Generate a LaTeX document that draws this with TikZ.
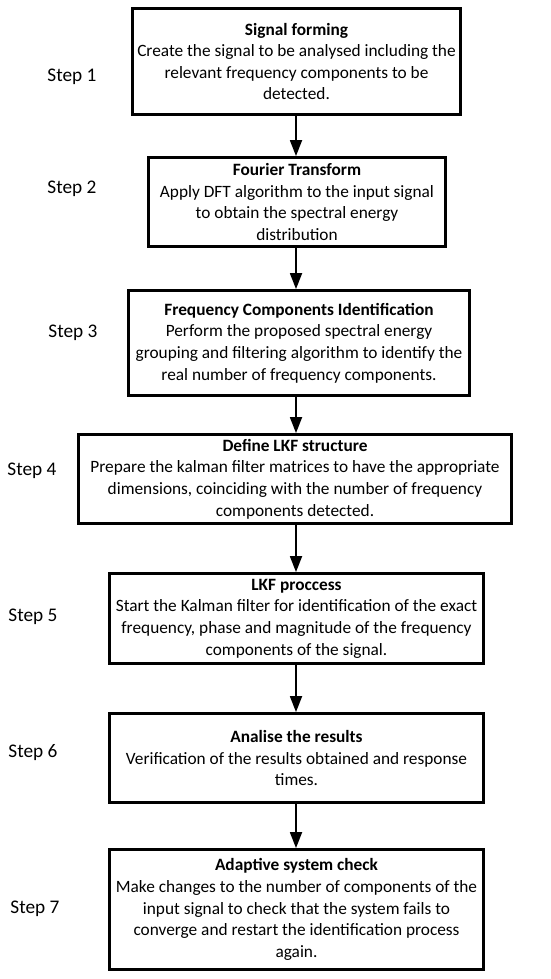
\documentclass[tikz,border=0pt]{standalone}
\usepackage{fontspec}
\setmainfont{Carlito}
\usetikzlibrary{arrows.meta}
\begin{document}
\begin{tikzpicture}[x=1pt,y=-1pt,
  stepbox/.style={draw, line width=2.8pt, rectangle, inner sep=0pt, align=center,
     font=\fontsize{17.3}{21.6}\selectfont},
  steplabel/.style={font=\fontsize{19.3}{22}\selectfont, inner sep=0pt},
  flow/.style={line width=1.8pt, -{Triangle[width=12pt,length=16pt]}}]
\useasboundingbox[fill=white] (0,0) rectangle (550,979);
\node[stepbox, minimum width=328pt, minimum height=106pt] (b1) at (296.5,61.5)
  {\textbf{Signal forming}\\Create the signal to be analysed including the\\relevant frequency components to be\\detected.};
\node[stepbox, minimum width=297pt, minimum height=89pt] (b2) at (297,202)
  {\textbf{Fourier Transform}\\Apply DFT algorithm to the input signal\\to obtain the spectral energy\\distribution};
\node[stepbox, minimum width=341pt, minimum height=105pt] (b3) at (299,343)
  {\textbf{Frequency Components Identification}\\Perform the proposed spectral energy\\grouping and filtering algorithm to identify the\\real number of frequency components.};
\node[stepbox, minimum width=433pt, minimum height=89pt] (b4) at (295,479)
  {\textbf{Define LKF structure}\\Prepare the kalman filter matrices to have the appropriate\\dimensions, coinciding with the number of frequency\\components detected.};
\node[stepbox, minimum width=374pt, minimum height=90pt] (b5) at (296.5,618.5)
  {\textbf{LKF proccess}\\Start the Kalman filter for identification of the exact\\frequency, phase and magnitude of the frequency\\components of the signal.};
\node[stepbox, minimum width=374pt, minimum height=89pt] (b6) at (296.5,758)
  {\textbf{Analise the results}\\Verification of the results obtained and response\\times.};
\node[stepbox, minimum width=374pt, minimum height=120pt] (b7) at (296.5,909.5)
  {\textbf{Adaptive system check}\\Make changes to the number of components of the\\input signal to check that the system fails to\\converge and restart the identification process\\again.};
\node[steplabel] (s1) at (72,77) {Step 1};
\node[steplabel] (s2) at (72,189) {Step 2};
\node[steplabel] (s3) at (73,333) {Step 3};
\node[steplabel] (s4) at (32,471) {Step 4};
\node[steplabel] (s5) at (33,617) {Step 5};
\node[steplabel] (s6) at (33,753) {Step 6};
\node[steplabel] (s7) at (35,909) {Step 7};
\coordinate (ax) at (296,0);
\draw[flow] (b1.south -| ax) -- (b2.north -| ax);
\draw[flow] (b2.south -| ax) -- (b3.north -| ax);
\draw[flow] (b3.south -| ax) -- (b4.north -| ax);
\draw[flow] (b4.south -| ax) -- (b5.north -| ax);
\draw[flow] (b5.south -| ax) -- (b6.north -| ax);
\draw[flow] (b6.south -| ax) -- (b7.north -| ax);
\end{tikzpicture}
\end{document}
